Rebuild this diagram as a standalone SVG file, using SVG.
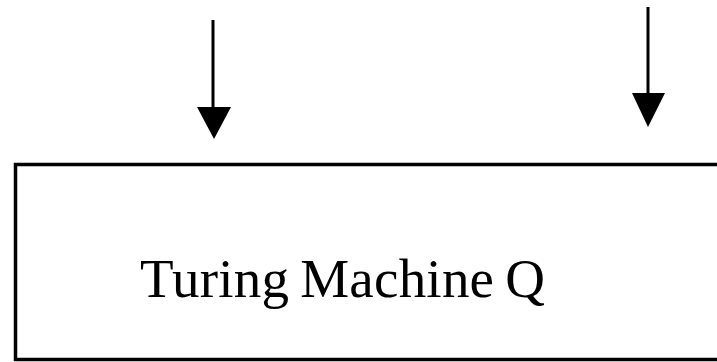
<svg xmlns="http://www.w3.org/2000/svg" width="717" height="362" viewBox="0 0 717 362">
<style>
.shaft{stroke:#000;stroke-width:3;fill:none}
.head{fill:#000}
.box{fill:#fff;stroke:#000;stroke-width:3.5}
.lbl{font-family:"Liberation Serif","Times New Roman",serif;font-size:55px;fill:#000;word-spacing:-3px}
</style>
<rect width="717" height="362" fill="#fff"/>
<g id="connectors">
<line class="shaft" x1="213" y1="20" x2="213" y2="108"/>
<polygon class="head" points="197,107 231,107 214,139"/>
<line class="shaft" x1="648" y1="7" x2="648" y2="94"/>
<polygon class="head" points="632,93 665,93 648,127"/>
</g>
<g id="turing-machine-q">
<rect class="box" x="15.5" y="164.5" width="720" height="195"/>
<text class="lbl" x="140" y="297" textLength="405" lengthAdjust="spacing">Turing Machine Q</text>
</g>
</svg>
